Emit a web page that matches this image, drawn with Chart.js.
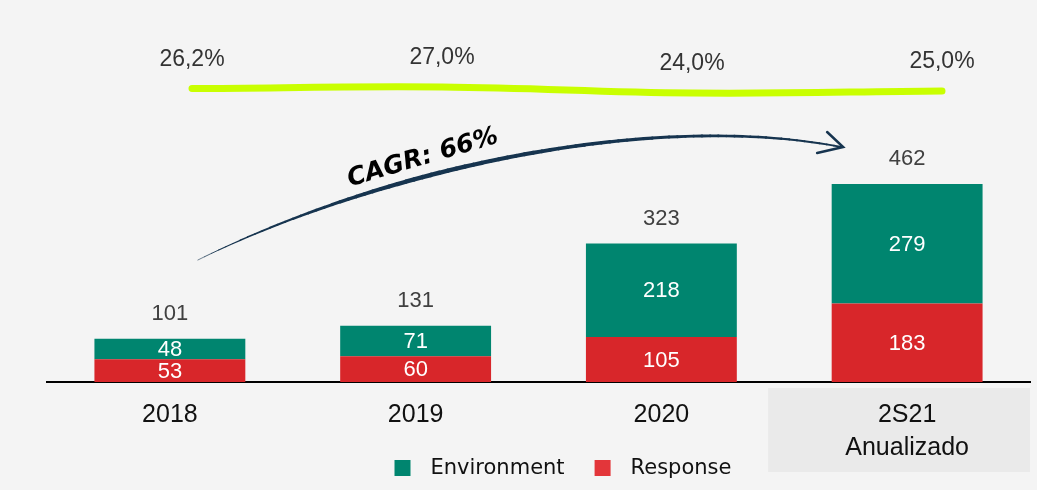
<!DOCTYPE html>
<html>
<head>
<meta charset="utf-8">
<script src="https://cdn.jsdelivr.net/npm/chart.js@4.4.0/dist/chart.umd.min.js"></script>
<style>
  html, body { margin: 0; padding: 0; background: #f4f4f4; }
  #wrap { width: 1037px; height: 490px; }
</style>
</head>
<body>
<div id="wrap"><canvas id="chart"></canvas></div>
<script>
const categories = ['2018', '2019', '2020', ['2S21', 'Anualizado']];
const environment = [48, 71, 218, 279];
const response = [53, 60, 105, 183];
const margin = [26.2, 27.0, 24.0, 25.0];
const marginLabels = ['26,2%', '27,0%', '24,0%', '25,0%'];
const cagrLabel = 'CAGR: 66%';

const GREEN = '#00856f';
const RED = '#d8262a';
const LEGEND_RED = '#e3363a';

// grey box behind the last category label
const labelBox = {
  id: 'labelBox',
  beforeDraw(chart) {
    const { ctx, chartArea, scales } = chart;
    const left = scales.x.getPixelForValue(3) - 139;
    ctx.save();
    ctx.fillStyle = '#eaeaea';
    ctx.fillRect(left, chartArea.bottom + 6, chartArea.right - left, 84);
    ctx.restore();
  }
};

// values inside the bars, totals and margin labels
const valueLabels = {
  id: 'valueLabels',
  afterDatasetsDraw(chart) {
    const ctx = chart.ctx;
    const resMeta = chart.getDatasetMeta(0);
    const envMeta = chart.getDatasetMeta(1);
    const lineMeta = chart.getDatasetMeta(2);
    ctx.save();
    ctx.textAlign = 'center';
    ctx.textBaseline = 'middle';
    ctx.font = '22px "Liberation Sans", Arial, sans-serif';
    ctx.fillStyle = '#ffffff';
    resMeta.data.forEach((bar, i) => ctx.fillText(response[i], bar.x, (bar.y + bar.base) / 2 + 1));
    envMeta.data.forEach((bar, i) => ctx.fillText(environment[i], bar.x, (bar.y + bar.base) / 2 + 1));
    ctx.fillStyle = '#404040';
    envMeta.data.forEach((bar, i) => ctx.fillText(environment[i] + response[i], bar.x, bar.y - 25));
    ctx.font = '23px "Liberation Sans", Arial, sans-serif';
    ctx.fillStyle = '#333333';
    lineMeta.data.forEach((pt, i) => ctx.fillText(marginLabels[i], pt.x, pt.y - 29));
    ctx.restore();
  }
};

// legend drawn under the axis, next to the last label box
const bottomLegend = {
  id: 'bottomLegend',
  afterDraw(chart) {
    const { ctx, chartArea } = chart;
    const items = [
      { text: chart.data.datasets[1].label, color: GREEN },
      { text: chart.data.datasets[0].label, color: LEGEND_RED }
    ];
    let x = (chartArea.left + chartArea.right) / 2 - 144;
    const y = chartArea.bottom + 86;
    ctx.save();
    ctx.font = '21px "DejaVu Sans", sans-serif';
    ctx.textBaseline = 'middle';
    ctx.textAlign = 'left';
    items.forEach((item) => {
      ctx.fillStyle = item.color;
      ctx.fillRect(x, y - 8, 16, 16);
      ctx.fillStyle = '#111111';
      ctx.fillText(item.text, x + 36, y + 1);
      x += 36 + ctx.measureText(item.text).width + 30;
    });
    ctx.restore();
  }
};

// CAGR arrow
const cagrArrow = {
  id: 'cagrArrow',
  afterDatasetsDraw(chart) {
    const { ctx, scales } = chart;
    const x0 = scales.x.getPixelForValue(0);
    const x3 = scales.x.getPixelForValue(3);
    const base = scales.y.getPixelForValue(0);
    const p = [
      [x0 + 28, base - 122],
      [x0 + 210, base - 212],
      [x0 + 480, base - 272],
      [x3 - 66, base - 235]
    ];
    const pt = (t) => {
      const u = 1 - t;
      return [
        u * u * u * p[0][0] + 3 * u * u * t * p[1][0] + 3 * u * t * t * p[2][0] + t * t * t * p[3][0],
        u * u * u * p[0][1] + 3 * u * u * t * p[1][1] + 3 * u * t * t * p[2][1] + t * t * t * p[3][1]
      ];
    };
    ctx.save();
    ctx.strokeStyle = '#16344f';
    ctx.lineCap = 'round';
    const n = 80;
    for (let k = 0; k < n; k++) {
      const t0 = k / n, t1 = (k + 1) / n;
      const a = pt(t0), b = pt(t1);
      ctx.lineWidth = t0 < 0.35 ? 0.6 + 4 * t0 / 0.35 : 4.6 - 2.8 * (t0 - 0.35) / 0.65;
      ctx.beginPath();
      ctx.moveTo(a[0], a[1]);
      ctx.lineTo(b[0], b[1]);
      ctx.stroke();
    }
    const tip = p[3];
    ctx.lineWidth = 2.5;
    ctx.beginPath();
    ctx.moveTo(tip[0] - 14, tip[1] - 15);
    ctx.lineTo(tip[0] + 2, tip[1]);
    ctx.lineTo(tip[0] - 24, tip[1] + 6);
    ctx.stroke();

    ctx.translate(x0 + 253, base - 224);
    ctx.rotate(-16.5 * Math.PI / 180);
    ctx.font = 'italic bold 25px "DejaVu Sans", sans-serif';
    ctx.fillStyle = '#000000';
    ctx.textAlign = 'center';
    ctx.textBaseline = 'middle';
    ctx.fillText(cagrLabel, 0, 0);
    ctx.restore();
  }
};

new Chart(document.getElementById('chart'), {
  type: 'bar',
  data: {
    labels: categories,
    datasets: [
      {
        label: 'Response',
        data: response,
        backgroundColor: RED,
        grouped: false,
        barPercentage: 0.614,
        categoryPercentage: 1
      },
      {
        label: 'Environment',
        data: environment,
        backgroundColor: GREEN,
        grouped: false,
        barPercentage: 0.614,
        categoryPercentage: 1
      },
      {
        type: 'line',
        label: 'Margin',
        data: margin.map((v, i) => ({ x: i, y: v })),
        xAxisID: 'x2',
        yAxisID: 'y2',
        borderColor: '#c9ff00',
        borderWidth: 7,
        borderCapStyle: 'round',
        tension: 0.4,
        pointRadius: 0,
        fill: false
      }
    ]
  },
  options: {
    responsive: true,
    maintainAspectRatio: false,
    animation: false,
    layout: { padding: { left: 47, right: 7, top: 10, bottom: 12 } },
    plugins: {
      tooltip: { enabled: false },
      legend: { display: false }
    },
    scales: {
      x: {
        stacked: true,
        grid: { display: false, drawTicks: false },
        border: { display: true, color: '#000000', width: 2 },
        ticks: {
          padding: 17,
          color: '#111111',
          font: { family: '"Liberation Sans", Arial, sans-serif', size: 25, lineHeight: 1.32 }
        },
        afterFit: (scale) => { scale.height = 96; }
      },
      y: {
        stacked: true,
        display: false,
        min: 0,
        max: 868
      },
      x2: {
        type: 'linear',
        display: false,
        offset: false,
        grid: { offset: false },
        min: -0.58,
        max: 3.352
      },
      y2: {
        display: false,
        min: -120.5,
        max: 65.5
      }
    }
  },
  plugins: [labelBox, valueLabels, cagrArrow, bottomLegend]
});
</script>
</body>
</html>
